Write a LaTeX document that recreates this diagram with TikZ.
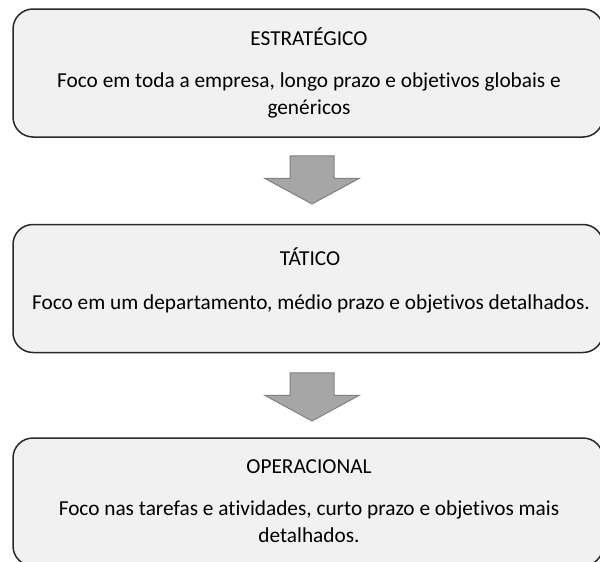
\documentclass[tikz,border=0pt]{standalone}
\usepackage{fontspec}
\setmainfont[Ligatures={NoCommon}]{Carlito}
\usetikzlibrary{positioning,shapes.arrows}
\definecolor{boxfill}{RGB}{241,241,241}
\definecolor{boxline}{RGB}{40,40,40}
\definecolor{arrowfill}{RGB}{166,166,166}
\definecolor{arrowline}{RGB}{128,128,128}
\tikzset{
	levelbox/.style={draw=boxline, fill=boxfill, line width=1.5pt, rounded corners=20pt,
		minimum width=590pt, minimum height=128pt, inner sep=0pt},
	leveltitle/.style={font=\fontsize{21.3}{26}\selectfont, inner sep=0pt, anchor=base},
	leveltext/.style={font=\fontsize{21.3}{27}\selectfont, align=center, inner sep=0pt, anchor=base},
	downarrow/.style={single arrow, draw=arrowline, fill=arrowfill, line width=1pt,
		shape border rotate=270, minimum height=48pt, inner xsep=21.5pt, inner ysep=0pt,
		single arrow head extend=25pt, single arrow tip angle=123},
}
\begin{document}
\begin{tikzpicture}[x=1pt, y=-1pt]
		\useasboundingbox (0,0) rectangle (600,562);
		\clip (0,0) rectangle (600,562);
		% caixas
		\node[levelbox] (estrat) at (308,73) {};
		\node[levelbox] (tatico) at (308,288.5) {};
		\node[levelbox] (operac) at (308,502) {};
		% textos (base = ultima linha)
		\node[leveltitle] (estrat-t) at (309,45) {ESTRATÉGICO};
		\node[leveltext] (estrat-d) at (309,114) {Foco em toda a empresa, longo prazo e objetivos globais e\\genéricos};
		\node[leveltitle] (tatico-t) at (310,265) {TÁTICO};
		\node[leveltext] (tatico-d) at (311,309) {Foco em um departamento, médio prazo e objetivos detalhados.};
		\node[leveltitle] (operac-t) at (309,473) {OPERACIONAL};
		\node[leveltext] (operac-d) at (309,542) {Foco nas tarefas e atividades, curto prazo e objetivos mais\\detalhados.};
		% setas
		\node[downarrow] (seta1) at (312,174) {};
		\node[downarrow] (seta2) at (312,391) {};
\end{tikzpicture}
\end{document}
